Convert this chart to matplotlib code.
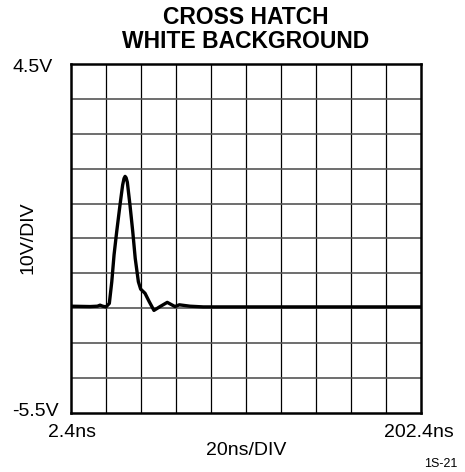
#! /usr/bin/env python3

import numpy as np
from matplotlib import pyplot as plt

plt.rcParams['font.family'] = ['Liberation Sans', 'DejaVu Sans']

# scope trace, time in ns and level in divisions
t_ns = [2.4, 13.3, 17.5, 19.0, 20.5, 22.4, 24.3, 25.7, 27.0, 28.5, 30.4, 31.9, 32.7,
        33.3, 33.9, 34.6, 36.1, 37.7, 39.1, 40.9, 42.2, 44.7, 47.1, 49.8, 53.3,
        57.4, 61.8, 64.3, 70.4, 78.0, 202.4]
level = [-2.44, -2.45, -2.44, -2.41, -2.44, -2.46, -2.36, -1.74, -0.97, -0.31, 0.46, 1.03,
         1.22, 1.28, 1.24, 1.11, 0.46, -0.31, -1.07, -1.74, -1.95, -2.07, -2.31, -2.56,
         -2.45, -2.33, -2.45, -2.40, -2.44, -2.46, -2.46]

x_min, x_max = 2.4, 202.4
y_min, y_max = -5.5, 4.5
title = "CROSS HATCH\nWHITE BACKGROUND"


def main():
    fig = plt.figure(figsize=(4.65, 4.72), dpi=100)
    W, H = 465, 472
    ax = fig.add_axes([71 / W, 1 - 413 / H, 350 / W, 349 / H])

    xs = np.linspace(x_min, x_max, 11)
    ys = np.linspace(y_min, y_max, 11)
    for x in xs[1:-1]:
        ax.axvline(x, color="black", lw=0.9, zorder=1)
    for y in ys[1:-1]:
        ax.axhline(y, color="#555555", lw=1.2, zorder=1)

    ax.plot(t_ns, level, color="black", lw=2.4, zorder=3,
            solid_joinstyle="round", solid_capstyle="round")

    ax.set_xlim(x_min, x_max)
    ax.set_ylim(y_min, y_max)
    ax.set_xticks([])
    ax.set_yticks([])
    for s in ax.spines.values():
        s.set_linewidth(1.8)
        s.set_color("black")

    fig.text(246 / W, 1 - 6 / H, title, ha="center", va="top", fontsize=16.5,
             fontweight="bold", linespacing=1.05)
    fig.text(12 / W, 1 - 67.5 / H, "4.5V", ha="left", va="center", fontsize=14)
    fig.text(12 / W, 1 - 411.5 / H, "-5.5V", ha="left", va="center", fontsize=14)
    fig.text(72 / W, 1 - 437 / H, "2.4ns", ha="center", va="baseline", fontsize=14)
    fig.text(419 / W, 1 - 437 / H, "202.4ns", ha="center", va="baseline", fontsize=14)
    fig.text(246 / W, 1 - 455 / H, "20ns/DIV", ha="center", va="baseline", fontsize=14)
    fig.text(27.5 / W, 1 - 238 / H, "10V/DIV", ha="center", va="center", fontsize=14,
             rotation=90)
    fig.text(457 / W, 1 - 467 / H, "1S-21", ha="right", va="baseline", fontsize=9)

    fig.savefig("out.png", dpi=100)


if __name__ == "__main__":
    main()
